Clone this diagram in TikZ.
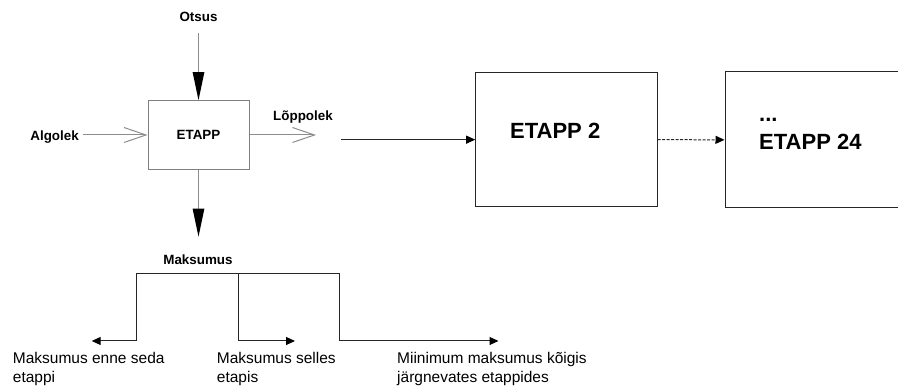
\documentclass[tikz,border=0pt]{standalone}
\usepackage{fontspec}
\setmainfont{Liberation Sans}
\usetikzlibrary{arrows.meta}
\begin{document}
\begin{tikzpicture}[x=1pt,y=1pt,
  lbl/.style={font=\bfseries\fontsize{13.4}{16}\selectfont, inner sep=0pt},
  bigl/.style={font=\bfseries\fontsize{22}{27}\selectfont, inner sep=0pt},
  note/.style={font=\fontsize{15.5}{19}\selectfont, inner sep=0pt, align=left, anchor=north west},
  graybox/.style={draw=gray, line width=1pt, minimum width=101pt, minimum height=68.6pt, inner sep=0pt},
  stagebox/.style={draw=black!85, line width=1pt, inner sep=0pt},
  flow/.style={draw=gray!90, line width=1pt},
  openhead/.style={flow, -{Straight Barb[length=22pt,width=15pt]}},
  bighead/.style={flow, -{Triangle[length=28pt,width=11.5pt,color=black]}},
  smallhead/.style={draw=black!85, line width=1pt, -{Triangle[length=9pt,width=8pt,color=black]}},
  dotted flow/.style={dash pattern=on 3pt off 1.5pt},
]
\useasboundingbox (0,0) rectangle (898,387);
\clip (0,0) rectangle (898,387);

% first stage with its inputs and outputs
\node[graybox, lbl] (etapp) at (198.5,252) {ETAPP};
\node[lbl] (otsus) at (198.5,369.7) {Otsus};
\node[lbl, anchor=base east] (algolek) at (79,246.2) {Algolek};
\node[lbl] (lopp) at (303,270.3) {Lõppolek};
\coordinate (loppend) at (316,252);
\coordinate (maktip) at (198.5,150.3);
\node[lbl] (maks) at (198,127) {Maksumus};

\draw[bighead, shorten <=11pt] (otsus.south) -- (etapp.north);
\draw[openhead, shorten <=4pt] (algolek.east |- etapp.west) -- (etapp.west);
\draw[openhead] (etapp.east) -- (loppend);
\draw[bighead] (etapp.south) -- (maktip);

% later stages
\node[stagebox, minimum width=181.3pt, minimum height=134.7pt] (etapp2) at (566.35,247.35) {};
\node[bigl, anchor=west] (etapp2label) at (510,256.3) {ETAPP 2};
\node[stagebox, minimum width=200pt, minimum height=136.3pt] (etapp24) at (825,247.15) {};
\node[bigl, anchor=base west] (dots) at (759,265.7) {...};
\node[bigl, anchor=west] (etapp24label) at (759,245.3) {ETAPP 24};

\coordinate (stagein) at (341,247.35);
\draw[smallhead] (stagein) -- (etapp2.west);
\draw[smallhead, dotted flow] (etapp2.east) -- (etapp24.west);

% cost split
\coordinate (bl) at (136.7,113.5);
\coordinate (bm) at (238.3,113.5);
\coordinate (br) at (339.5,113.5);
\coordinate (tl) at (91.7,46);
\coordinate (tm) at (295,46);
\coordinate (tr) at (498.5,46);
\draw[draw=black!85, line width=1pt] (bl) -- (br);
\draw[smallhead] (bl) |- (tl);
\draw[smallhead] (bm) |- (tm);
\draw[smallhead] (br) |- (tr);

\node[note] (n1) at (12.7,35) {Maksumus enne seda\\etappi};
\node[note] (n2) at (216.7,35) {Maksumus selles\\etapis};
\node[note] (n3) at (397,35) {Miinimum maksumus kõigis\\järgnevates etappides};
\end{tikzpicture}
\end{document}
